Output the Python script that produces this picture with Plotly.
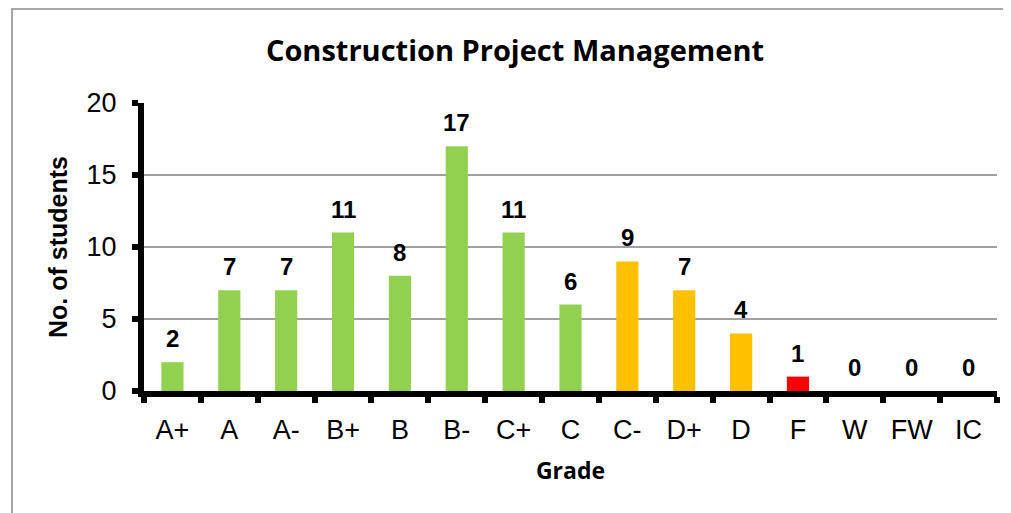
import plotly.graph_objects as go

grades = ["A+", "A", "A-", "B+", "B", "B-", "C+", "C", "C-", "D+", "D", "F", "W", "FW", "IC"]
students = [2, 7, 7, 11, 8, 17, 11, 6, 9, 7, 4, 1, 0, 0, 0]
bar_colors = ["#92D050"] * 8 + ["#FFC000"] * 3 + ["#FF0000"] + ["#92D050"] * 3
y_ticks = [0, 5, 10, 15, 20]

# page body has an 8px margin; figure is sized so it ends at the window edge
W, H = 1003, 505
ML, MR, MT, MB = 136, 14, 95, 122
pw = W - ML - MR
ph = H - MT - MB

fig = go.Figure()
fig.add_trace(go.Bar(x=grades, y=students, marker=dict(color=bar_colors, line=dict(width=0)),
                     width=0.39, hoverinfo="x+y"))

for g, v in zip(grades, students):
    fig.add_annotation(x=g, y=v, text="<b>" + str(v) + "</b>", showarrow=False, yanchor="bottom",
                       yshift=8, font=dict(family="Liberation Sans", size=24, color="black"),
                       xref="x", yref="y")

fig.update_layout(
    width=W, height=H,
    margin=dict(l=ML, r=MR, t=MT, b=MB),
    paper_bgcolor="white", plot_bgcolor="white",
    showlegend=False,
    title=dict(text="<b>Construction Project Management</b>", x=507 / W, xanchor="center",
               y=1 - 43 / H, yanchor="middle",
               font=dict(family="Open Sans", size=29, color="black")),
    font=dict(family="Liberation Sans", color="black"),
)
fig.update_xaxes(
    type="category", range=[-0.5, len(grades) - 0.5],
    showline=True, linecolor="black", linewidth=6,
    ticks="outside", ticklen=6, tickwidth=6, tickcolor="black",
    tickson="boundaries", ticklabelstandoff=10, tickangle=0,
    tickfont=dict(family="Liberation Sans", size=27, color="black"),
    showgrid=False,
    title=dict(text="<b>Grade</b>", font=dict(family="Open Sans", size=23, color="black"), standoff=20),
)
fig.update_yaxes(
    range=[0, 20], tickvals=y_ticks,
    showline=True, linecolor="black", linewidth=6,
    ticks="outside", ticklen=6, tickwidth=6, tickcolor="black",
    ticklabelstandoff=10,
    tickfont=dict(family="Liberation Sans", size=27, color="black"),
    showgrid=True, gridcolor="#A0A0A0", gridwidth=1.5,
    zeroline=False,
    title=dict(text="<b>No. of students</b>", font=dict(family="Liberation Sans", size=25, color="black"),
               standoff=14),
)

# chart border (outer frame, partly outside the visible window)
fig.add_shape(type="rect", xref="paper", yref="paper",
              x0=(4 - ML) / pw, x1=(W + 10 - ML) / pw,
              y0=(H - MB - (H + 10)) / ph, y1=(H - MB - 1) / ph,
              line=dict(color="#A6A6A6", width=2), fillcolor="rgba(0,0,0,0)", layer="below")

fig.write_html("out.html")
